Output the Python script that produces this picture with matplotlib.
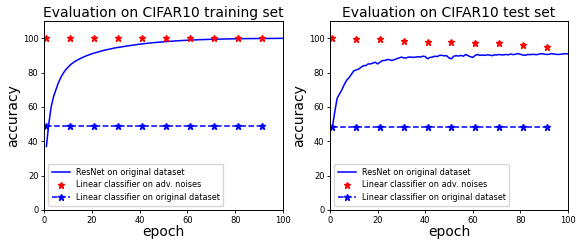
import matplotlib
matplotlib.use("Agg")
import matplotlib.pyplot as plt

# ---- data ----
train_epochs = list(range(1, 31)) + [35, 40, 45, 50, 55, 60, 65, 70, 75, 80, 85, 90, 95, 100]
train_resnet = [37, 50, 60, 66, 70, 74, 77, 79.5, 81.5, 83, 84.5, 85.5, 86.5, 87.3, 88, 88.7, 89.3, 89.9,
                90.4, 90.9, 91.3, 91.7, 92.1, 92.5, 92.9, 93.2, 93.5, 93.8, 94.1, 94.4,
                95.5, 96.5, 97.3, 97.9, 98.4, 98.8, 99.1, 99.35, 99.5, 99.65, 99.75, 99.8, 99.85, 99.9]

test_epochs = list(range(1, 101))
test_resnet = [48, 57, 65, 67.5, 70, 73, 75.5, 77, 79, 81, 81.5, 82, 83, 84, 84, 85, 85, 85.5, 86, 85,
               86, 87, 87, 87.5, 87.5, 87, 87.5, 88, 88.5, 89, 88.5, 88.5, 89, 89, 88.8, 89, 89.2, 89, 89.5, 89.3,
               88, 88.8, 89, 89.5, 89.3, 90, 90, 89.7, 89.8, 88.5, 88, 89.5, 89.8, 89.6, 90, 89.5, 90.5, 89.8, 89.2, 88.8,
               90, 90.5, 90, 90.2, 90, 90.3, 90.2, 89.8, 90.3, 90.2, 90.5, 90.3, 90.3, 90.5, 90.3, 90.8, 90.4, 90.7, 91, 90.6,
               90.2, 90, 90.5, 90.4, 90.6, 90.5, 90.4, 90.8, 91, 90.7, 90.5, 90.6, 91, 90.8, 90.6, 90.5, 90.7, 90.8, 91, 90.8]

lin_epochs = [1, 11, 21, 31, 41, 51, 61, 71, 81, 91]
train_adv = [100, 100, 100, 100, 100, 100, 100, 100, 100, 100]
train_orig = [49, 49, 49, 49, 49, 49, 49, 49, 49, 49]
test_adv = [100, 99.5, 99.3, 98.2, 97.7, 97.5, 97.4, 97.1, 96, 95]
test_orig = [48, 48, 48, 48, 48, 48, 48, 48, 48, 48]

titles = ["Evaluation on CIFAR10 training set", "Evaluation on CIFAR10 test set"]
labels = ["ResNet on original dataset", "Linear classifier on adv. noises",
          "Linear classifier on original dataset"]

fig = plt.figure(figsize=(5.82, 2.47), dpi=100)
ax1 = fig.add_axes([0.0756, 0.150, 0.4107, 0.765])
ax2 = fig.add_axes([0.567, 0.150, 0.409, 0.765])

panels = [
    (ax1, train_epochs, train_resnet, train_adv, train_orig, titles[0]),
    (ax2, test_epochs, test_resnet, test_adv, test_orig, titles[1]),
]
for ax, ex, ry, adv, orig, title in panels:
    ax.plot(ex, ry, color="blue", lw=1.1, label=labels[0])
    ax.plot(lin_epochs, adv, linestyle="none", marker="*", color="red", ms=5, label=labels[1])
    ax.plot(lin_epochs, orig, linestyle="--", marker="*", color="blue", ms=5, lw=1.1, label=labels[2])
    ax.set_xlim(0, 100)
    ax.set_ylim(0, 110)
    ax.set_xticks([0, 20, 40, 60, 80, 100])
    ax.set_yticks([0, 20, 40, 60, 80, 100])
    ax.tick_params(labelsize=6, length=2.5, width=0.6, pad=1.5)
    for s in ax.spines.values():
        s.set_linewidth(0.7)
    ax.set_title(title, fontsize=10, pad=3)
    ax.set_xlabel("epoch", fontsize=10, labelpad=0)
    ax.set_ylabel("accuracy", fontsize=10, labelpad=2)
    ax.legend(loc="lower left", fontsize=5.9, handlelength=2.2, borderpad=0.45, labelspacing=0.45,
              handletextpad=0.7, framealpha=0.8)

fig.savefig("out.png", dpi=100)
